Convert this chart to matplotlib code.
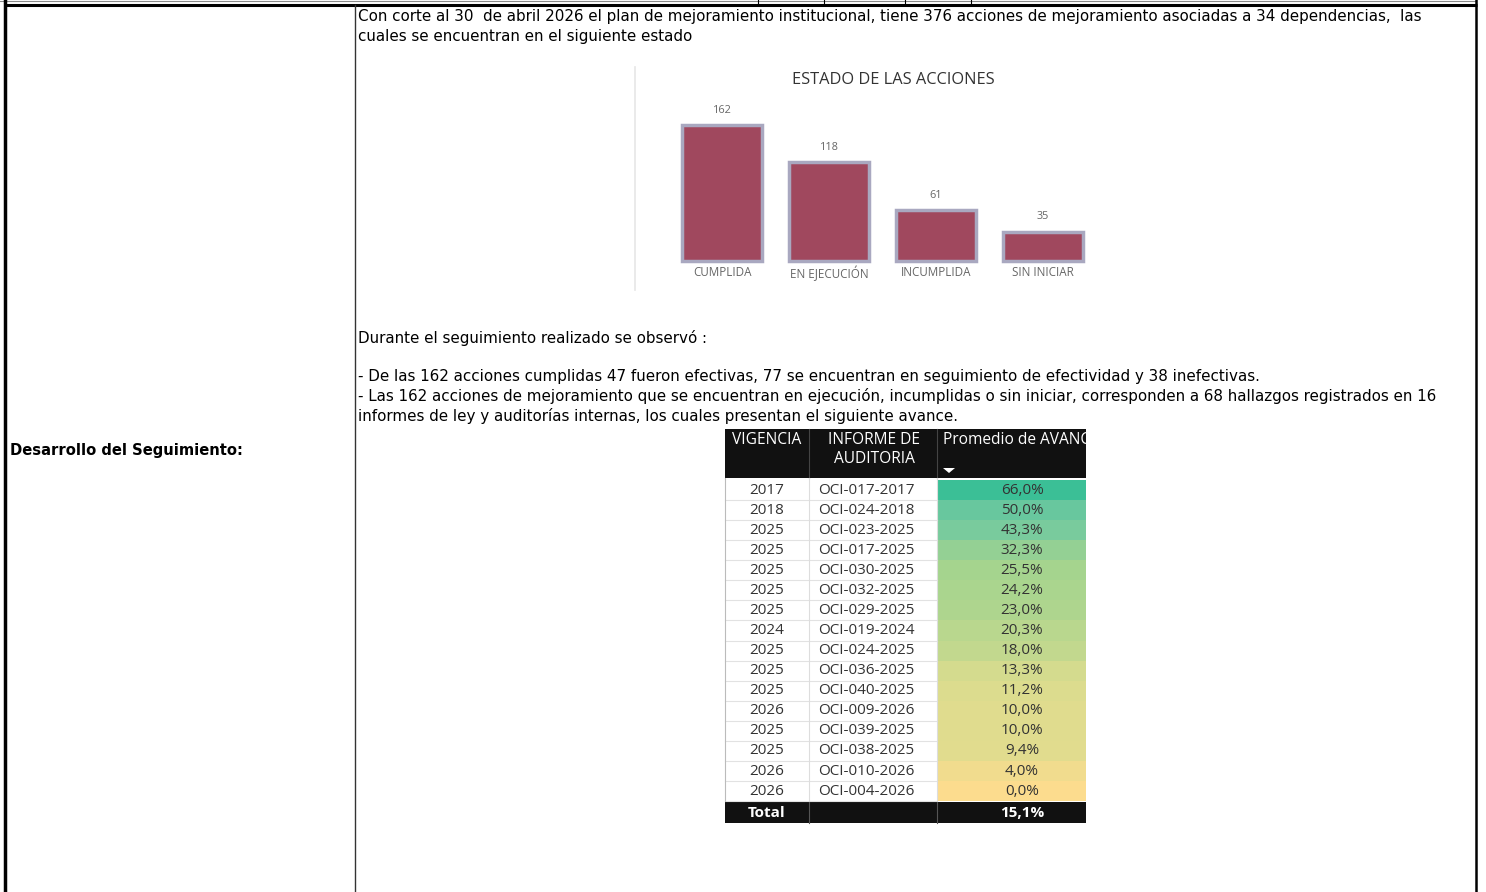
import matplotlib
matplotlib.use("Agg")
import matplotlib.pyplot as plt
from matplotlib.colors import LinearSegmentedColormap

W, H = 1486, 892

# --- datos del gráfico de barras
estados = ["CUMPLIDA", "EN EJECUCIÓN", "INCUMPLIDA", "SIN INICIAR"]
acciones = [162, 118, 61, 35]

# --- datos de la tabla
vigencia = ["2017", "2018", "2025", "2025", "2025", "2025", "2025", "2024",
            "2025", "2025", "2025", "2026", "2025", "2025", "2026", "2026"]
informe = ["OCI-017-2017", "OCI-024-2018", "OCI-023-2025", "OCI-017-2025",
           "OCI-030-2025", "OCI-032-2025", "OCI-029-2025", "OCI-019-2024",
           "OCI-024-2025", "OCI-036-2025", "OCI-040-2025", "OCI-009-2026",
           "OCI-039-2025", "OCI-038-2025", "OCI-010-2026", "OCI-004-2026"]
avance = [66.0, 50.0, 43.3, 32.3, 25.5, 24.2, 23.0, 20.3,
          18.0, 13.3, 11.2, 10.0, 10.0, 9.4, 4.0, 0.0]
total_avance = 15.1

# --- textos
texto_1 = ("Con corte al 30  de abril 2026 el plan de mejoramiento institucional, tiene 376 acciones "
           "de mejoramiento asociadas a 34 dependencias,  las")
texto_2 = "cuales se encuentran en el siguiente estado"
texto_3 = "Durante el seguimiento realizado se observó :"
texto_4 = ("- De las 162 acciones cumplidas 47 fueron efectivas, 77 se encuentran en seguimiento "
           "de efectividad y 38 inefectivas.")
texto_5 = ("- Las 162 acciones de mejoramiento que se encuentran en ejecución, incumplidas o sin "
           "iniciar, corresponden a 68 hallazgos registrados en 16")
texto_6 = "informes de ley y auditorías internas, los cuales presentan el siguiente avance."

fig = plt.figure(figsize=(W / 100, H / 100), dpi=100)
ax = fig.add_axes([0, 0, 1, 1])
ax.set_xlim(0, W)
ax.set_ylim(H, 0)
ax.axis("off")

doc_font = "DejaVu Sans"
tab_font = "Open Sans"

# marco del documento
ax.plot([0, 1476], [0.5, 0.5], color="#888888", lw=0.8)
for x in [758, 824, 905, 971]:
    ax.plot([x, x], [0, 5], color="black", lw=0.8)
ax.plot([4, 1477], [5, 5], color="black", lw=2.2, solid_capstyle="butt")
ax.plot([4.5, 4.5], [0, H], color="black", lw=2.5)
ax.plot([355, 355], [5, H], color="#333333", lw=1.0)
ax.plot([1476, 1476], [0, H], color="black", lw=1.8)

# textos del documento
fs = 10.9
ax.text(358, 16, texto_1, fontsize=fs, family=doc_font, va="center", ha="left")
ax.text(358, 36, texto_2, fontsize=fs, family=doc_font, va="center", ha="left")
ax.text(358, 338, texto_3, fontsize=fs, family=doc_font, va="center", ha="left")
ax.text(358, 377, texto_4, fontsize=fs, family=doc_font, va="center", ha="left")
ax.text(358, 396, texto_5, fontsize=fs, family=doc_font, va="center", ha="left")
ax.text(358, 416, texto_6, fontsize=fs, family=doc_font, va="center", ha="left")
ax.text(10, 450, "Desarrollo del Seguimiento:", fontsize=10.6, family=doc_font,
        fontweight="bold", va="center", ha="left")

# --- gráfico de barras (imagen incrustada)
ax.plot([634.5, 634.5], [67, 290], color="#e6e6e6", lw=1.2)
bx0, bx1, by0, by1 = 636, 1100, 67, 290
axb = fig.add_axes([bx0 / W, 1 - by1 / H, (bx1 - bx0) / W, (by1 - by0) / H])
pxu_x = 107.0
pxu_y = 0.84
axb.set_xlim((bx0 - 722) / pxu_x, (bx1 - 722) / pxu_x)
axb.set_ylim(-(by1 - 261) / pxu_y, (261 - by0) / pxu_y)
axb.axis("off")
xs = list(range(len(estados)))
axb.bar(xs, acciones, width=0.75, color="#a0485e", edgecolor="#a9a8c0", linewidth=2.5)
for x, v, lab in zip(xs, acciones, estados):
    axb.text(x, v + 11, str(v), ha="center", va="bottom", fontsize=7.8,
             color="#666666", family=tab_font)
    axb.text(x, -6, lab, ha="center", va="top", fontsize=8.4,
             color="#666666", family=tab_font)
axb.text(1.6, 215, "ESTADO DE LAS ACCIONES", ha="center", va="center", fontsize=11.8,
         color="#333333", family=tab_font)

# --- tabla
tx0, tx1, tx2, tx3 = 725, 809, 937, 1086
hy0, hy1 = 429, 478
row_h = 20.07
cmap = LinearSegmentedColormap.from_list(
    "avance", [(0.0, "#fcdc8e"), (0.17, "#dcdc8e"), (0.38, "#a6d48e"), (0.7, "#72c9a0"), (1.0, "#3bbf96")])
vmax = max(avance)
hfs = 11.2
rfs = 11.0

ax.add_patch(plt.Rectangle((tx0, hy0), tx3 - tx0, hy1 - hy0, color="#111111", lw=0))
ax.plot([tx1, tx1], [hy0, hy1], color="#444444", lw=0.8)
ax.plot([tx2, tx2], [hy0, hy1], color="#444444", lw=0.8)
ax.text((tx0 + tx1) / 2, 440, "VIGENCIA", color="white", fontsize=hfs, family=tab_font,
        ha="center", va="center")
ax.text((tx1 + tx2) / 2 + 1, 440, "INFORME DE", color="white", fontsize=hfs, family=tab_font,
        ha="center", va="center")
ax.text((tx1 + tx2) / 2 + 1, 459, "AUDITORIA", color="white", fontsize=hfs, family=tab_font,
        ha="center", va="center")
ax.text(943, 440, "Promedio de AVANCE", color="white", fontsize=hfs, family=tab_font,
        ha="left", va="center")
ax.add_patch(plt.Polygon([[943, 468], [955, 468], [949, 473]], color="white", lw=0))
# tapar el texto que se sale de la columna
ax.add_patch(plt.Rectangle((tx3, hy0 - 2), 80, hy1 - hy0 + 4, color="white", lw=0, zorder=3))

top = 480
for i, (vg, inf, av) in enumerate(zip(vigencia, informe, avance)):
    y0 = top + i * row_h
    yc = y0 + row_h / 2
    ax.add_patch(plt.Rectangle((tx2, y0), tx3 - tx2, row_h, color=cmap(av / vmax), lw=0))
    ax.plot([tx0, tx2], [y0 + row_h, y0 + row_h], color="#e2e2e2", lw=0.8)
    ax.text((tx0 + tx1) / 2, yc, vg, fontsize=rfs, family=tab_font, color="#333333",
            ha="center", va="center")
    ax.text(866, yc, inf, fontsize=rfs, family=tab_font, color="#333333",
            ha="center", va="center")
    ax.text(1022, yc, f"{av:.1f}%".replace(".", ","), fontsize=rfs, family=tab_font,
            color="#333333", ha="center", va="center")
bot = top + len(avance) * row_h
ax.plot([tx0, tx0], [hy1, bot], color="#bbbbbb", lw=0.8)
ax.plot([tx1, tx1], [hy1, bot], color="#dddddd", lw=0.8)
ax.plot([tx2, tx2], [hy1, bot], color="#dddddd", lw=0.8)
ax.add_patch(plt.Rectangle((tx0, bot + 1), tx3 - tx0, 21, color="#111111", lw=0))
ax.plot([tx1, tx1], [bot + 1, bot + 22], color="#555555", lw=0.8)
ax.plot([tx2, tx2], [bot + 1, bot + 22], color="#555555", lw=0.8)
ax.text((tx0 + tx1) / 2, bot + 12, "Total", color="white", fontsize=rfs, fontweight="bold",
        family=tab_font, ha="center", va="center")
ax.text(1022, bot + 12, f"{total_avance:.1f}%".replace(".", ","), color="white", fontsize=rfs,
        fontweight="bold", family=tab_font, ha="center", va="center")

fig.savefig("out.png", dpi=100)
